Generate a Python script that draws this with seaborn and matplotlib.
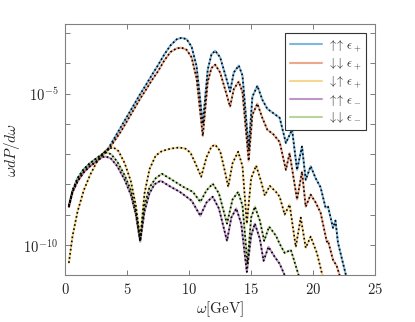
import numpy as np
import pandas as pd
import matplotlib
matplotlib.use("Agg")
import matplotlib.pyplot as plt
import matplotlib.ticker as mticker
import seaborn as sns

# log10 of omega dP/domega, one curve per spin case
x_uu_p = [0.3, 0.6, 1.0, 1.5, 2.0, 2.5, 3.0, 3.5, 4.0, 4.5, 5.0, 5.5, 6.0, 6.5, 7.0, 7.5, 8.0, 8.5,
          9.0, 9.4, 9.8, 10.2, 10.6, 11.1, 11.5, 11.8, 12.1, 12.5, 13.0, 13.3, 13.6, 14.0, 14.3,
          14.8, 15.1, 15.5, 15.9, 16.3, 16.8, 17.3, 17.8, 18.3, 18.7, 19.1, 19.4, 19.8, 20.2,
          20.6, 21.0, 21.2, 21.6, 21.8, 22.0, 22.4, 22.7]
y_uu_p = [-8.7, -8.2, -7.8, -7.5, -7.3, -7.15, -7.0, -6.8, -6.45, -6.1, -5.75, -5.4, -5.05, -4.72,
          -4.38, -4.05, -3.7, -3.4, -3.2, -3.15, -3.2, -3.45, -4.1, -6.0, -4.2, -3.7, -3.58, -3.8,
          -4.5, -4.93, -4.3, -4.07, -4.4, -6.82, -5.1, -4.74, -5.2, -5.5, -5.65, -5.8, -6.63,
          -6.19, -7.52, -6.75, -7.85, -7.4, -7.8, -8.1, -8.77, -8.74, -9.44, -9.2, -9.93,
          -10.6, -11.1]

x_dd_p = [0.3, 0.6, 1.0, 1.5, 2.0, 2.5, 3.0, 3.5, 4.0, 4.5, 5.0, 5.5, 6.0, 6.5, 7.0, 7.5, 8.0, 8.5,
          9.0, 9.4, 9.8, 10.2, 10.6, 11.1, 11.5, 11.8, 12.1, 12.5, 13.0, 13.3, 13.6, 14.0, 14.3,
          14.8, 15.1, 15.5, 15.9, 16.3, 16.8, 17.3, 17.8, 18.1, 18.7, 19.1, 19.4, 19.8, 20.2,
          20.6, 21.1, 21.2, 21.6, 21.9, 22.2]
y_dd_p = [-8.75, -8.25, -7.9, -7.6, -7.4, -7.25, -7.05, -6.85, -6.55, -6.25, -5.9, -5.55, -5.2,
          -4.88, -4.55, -4.25, -3.9, -3.62, -3.5, -3.48, -3.55, -3.8, -4.5, -6.4, -4.6, -4.15,
          -4.04, -4.3, -5.0, -5.43, -4.85, -4.6, -4.95, -7.22, -5.7, -5.33, -5.8, -6.19, -6.35,
          -6.6, -7.52, -6.97, -8.5, -7.58, -8.74, -8.34, -8.6, -8.94, -9.9, -9.87, -10.5,
          -10.7, -11.1]

x_du_p = [0.3, 0.6, 1.0, 1.5, 2.0, 2.5, 3.0, 3.5, 3.9, 4.3, 4.8, 5.3, 5.7, 6.05, 6.4, 6.8, 7.3,
          7.8, 8.5, 9.2, 9.7, 10.1, 10.5, 10.97, 11.4, 11.8, 12.1, 12.5, 12.9, 13.15, 13.5,
          13.95, 14.3, 14.65, 15.0, 15.4, 15.8, 16.1, 16.5, 17.0, 17.3, 17.7, 18.1, 18.6, 19.0,
          19.4, 19.8, 20.3, 20.8]
y_du_p = [-10.6, -9.7, -8.9, -8.2, -7.7, -7.3, -7.0, -6.82, -6.78, -6.9, -7.3, -7.9, -8.7, -9.8,
          -8.3, -7.5, -7.05, -6.9, -6.82, -6.78, -6.82, -6.95, -7.3, -7.75, -7.1, -6.75, -6.69,
          -6.9, -7.6, -8.08, -7.3, -6.92, -7.4, -9.3, -7.8, -7.38, -7.9, -8.37, -8.05, -8.25,
          -8.41, -9.0, -8.67, -10.07, -9.1, -10.1, -9.73, -10.27, -11.1]

x_uu_m = [0.3, 0.6, 1.0, 1.5, 2.0, 2.5, 3.0, 3.3, 3.7, 4.2, 4.8, 5.3, 5.7, 6.05, 6.4, 6.8, 7.2,
          7.7, 8.5, 9.25, 10.2, 10.9, 11.4, 11.9, 12.4, 13.05, 13.4, 13.8, 14.2, 14.65, 15.0,
          15.3, 15.7, 16.0, 16.4, 16.9, 17.3, 17.8]
y_uu_m = [-8.75, -8.25, -7.9, -7.6, -7.4, -7.25, -7.1, -7.08, -7.15, -7.4, -7.85, -8.35, -9.0,
          -9.9, -8.9, -8.3, -8.0, -7.88, -8.08, -8.25, -8.54, -9.04, -8.6, -8.41, -8.8, -9.87,
          -9.1, -8.8, -9.3, -10.9, -9.7, -9.3, -9.8, -10.53, -10.07, -10.4, -10.63, -11.1]

x_dd_m = [0.3, 0.6, 1.0, 1.5, 2.0, 2.5, 3.0, 3.3, 3.7, 4.2, 4.8, 5.3, 5.7, 6.05, 6.4, 6.8, 7.3,
          7.8, 8.5, 9.5, 10.3, 10.9, 11.4, 11.9, 12.4, 13.05, 13.5, 13.95, 14.3, 14.7, 15.0,
          15.3, 15.7, 16.05, 16.45, 17.0, 17.3, 17.7, 18.2, 18.9]
y_dd_m = [-8.7, -8.2, -7.8, -7.5, -7.3, -7.15, -7.0, -6.95, -7.0, -7.25, -7.7, -8.2, -8.9,
          -9.85, -8.7, -8.1, -7.8, -7.65, -7.82, -8.08, -8.25, -8.58, -8.2, -7.98, -8.3, -9.3,
          -8.5, -8.25, -8.7, -10.63, -9.1, -8.74, -9.2, -9.87, -9.4, -9.7, -9.97, -10.27,
          -10.17, -11.1]

labels = [r"$\uparrow\!\!\uparrow\,\epsilon_+$", r"$\downarrow\!\!\downarrow\,\epsilon_+$",
          r"$\downarrow\!\!\uparrow\,\epsilon_+$", r"$\uparrow\!\!\uparrow\,\epsilon_-$",
          r"$\downarrow\!\!\downarrow\,\epsilon_-$"]
colors = ["#0072bd", "#d95319", "#edb120", "#7e2f8e", "#77ac30"]

curves = [(x_uu_p, y_uu_p), (x_dd_p, y_dd_p), (x_du_p, y_du_p),
          (x_uu_m, y_uu_m), (x_dd_m, y_dd_m)]

sns.set_style("ticks")
plt.rcParams["font.family"] = "serif"
plt.rcParams["font.serif"] = ["cmr10", "DejaVu Serif"]
plt.rcParams["mathtext.fontset"] = "cm"
plt.rcParams["axes.formatter.use_mathtext"] = True

fig = plt.figure(figsize=(4.15, 3.22), dpi=100)
ax = fig.add_axes([0.157, 0.146, 0.747, 0.779])

for (xs, ys), lab, col in zip(curves, labels, colors):
    df = pd.DataFrame({"w": xs, "p": 10.0 ** np.array(ys)})
    sns.lineplot(data=df, x="w", y="p", ax=ax, color=col, alpha=0.5, lw=1.5,
                 label=lab, sort=False, estimator=None)
for xs, ys in curves:
    df = pd.DataFrame({"w": xs, "p": 10.0 ** np.array(ys)})
    sns.lineplot(data=df, x="w", y="p", ax=ax, color="black", lw=1.2,
                 linestyle=(0, (1, 1.5)), sort=False, estimator=None, legend=False)

ax.set_yscale("log")
ax.set_xlim(0, 25)
ax.set_ylim(1e-11, 10 ** -2.7)
ax.set_xticks([0, 5, 10, 15, 20, 25])
ax.yaxis.set_major_locator(mticker.LogLocator(base=10, numticks=20))
ax.yaxis.set_minor_locator(mticker.NullLocator())


def yfmt(v, pos):
    e = int(round(np.log10(v)))
    if e in (-5, -10):
        return r"$10^{%d}$" % e
    return ""


ax.yaxis.set_major_formatter(mticker.FuncFormatter(yfmt))
ax.tick_params(direction="in", top=True, right=True, length=3.5, width=0.6,
               color="0.4", labelsize=10.5, pad=5)
for s in ax.spines.values():
    s.set_color("0.5")
    s.set_linewidth(0.8)

ax.set_xlabel(r"$\omega[\mathrm{GeV}]$", fontsize=11, labelpad=2)
ax.set_ylabel(r"$\omega dP/d\omega$", fontsize=11, labelpad=1)

leg = ax.legend(loc="upper right", fontsize=9, handlelength=2.6, handletextpad=0.4,
                fancybox=False, framealpha=1, edgecolor="0.2", borderaxespad=0.7,
                borderpad=0.4, labelspacing=0.2)
leg.get_frame().set_linewidth(0.8)

fig.savefig("out.png", dpi=100)
